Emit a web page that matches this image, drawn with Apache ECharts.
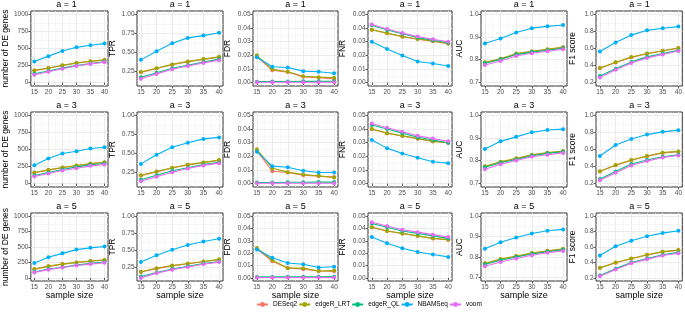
<!DOCTYPE html>
<html>
<head>
<meta charset="utf-8">
<script src="https://cdn.jsdelivr.net/npm/echarts@6/dist/echarts.min.js"></script>
<style>
  html, body { margin: 0; padding: 0; background: #fff; }
  #main { width: 685px; height: 313px; }
</style>
</head>
<body>
<div id="main"></div>
<script>
const methods = ['DESeq2', 'edgeR_LRT', 'edgeR_QL', 'NBAMSeq', 'voom'];
const sampleSize = [15, 20, 25, 30, 35, 40];
const aLabels = ['a = 1', 'a = 3', 'a = 5'];
const metricNames = ['number of DE genes', 'TPR', 'FDR', 'FNR', 'AUC', 'F1 score'];

// tick labels per metric column
const deTicks = [0, 250, 500, 750, 1000];
const tprTicks = [0.25, 0.5, 0.75, 1.0];
const fdrTicks = [0, 0.01, 0.02, 0.03, 0.04, 0.05];
const fnrTicks = [0, 0.01, 0.02, 0.03, 0.04, 0.05];
const aucTicks = [0.7, 0.8, 0.9, 1.0];
const f1Ticks = [0.2, 0.4, 0.6, 0.8, 1.0];

// values, rows in the order of `methods`
// a = 1
const deA1 = [
  [176, 211, 251, 286, 310, 330],
  [179, 214, 254, 289, 313, 333],
  [129, 170, 212, 250, 279, 304],
  [308, 388, 463, 517, 547, 572],
  [114, 159, 204, 244, 274, 299]
];
const tprA1 = [
  [0.235, 0.285, 0.335, 0.375, 0.405, 0.435],
  [0.24, 0.29, 0.34, 0.38, 0.41, 0.44],
  [0.17, 0.23, 0.29, 0.33, 0.37, 0.41],
  [0.40, 0.515, 0.62, 0.69, 0.72, 0.757],
  [0.15, 0.215, 0.275, 0.32, 0.36, 0.395]
];
const fdrA1 = [
  [0.019, 0.009, 0.0077, 0.0042, 0.0035, 0.0027],
  [0.020, 0.0097, 0.0079, 0.0047, 0.0040, 0.0035],
  [0.0007, 0.0008, 0.0008, 0.0009, 0.0009, 0.0010],
  [0.0186, 0.0116, 0.0111, 0.0084, 0.0079, 0.0069],
  [0.0002, 0.0002, 0.0002, 0.0002, 0.0002, 0.0002]
];
const fnrA1 = [
  [0.0387, 0.0362, 0.0337, 0.0319, 0.0304, 0.0286],
  [0.0388, 0.0363, 0.0338, 0.0320, 0.0305, 0.0287],
  [0.0420, 0.0386, 0.0358, 0.0330, 0.0310, 0.0292],
  [0.0300, 0.0246, 0.0198, 0.0155, 0.0140, 0.0122],
  [0.0426, 0.0393, 0.0363, 0.0338, 0.0317, 0.0300]
];
const aucA1 = [
  [0.786, 0.802, 0.825, 0.835, 0.844, 0.853],
  [0.788, 0.804, 0.827, 0.837, 0.846, 0.855],
  [0.784, 0.800, 0.822, 0.833, 0.841, 0.850],
  [0.871, 0.893, 0.920, 0.939, 0.947, 0.953],
  [0.776, 0.794, 0.816, 0.828, 0.837, 0.846]
];
const f1A1 = [
  [0.368, 0.436, 0.496, 0.539, 0.571, 0.603],
  [0.371, 0.439, 0.499, 0.542, 0.574, 0.606],
  [0.276, 0.363, 0.443, 0.502, 0.542, 0.578],
  [0.566, 0.670, 0.757, 0.813, 0.837, 0.857],
  [0.260, 0.351, 0.431, 0.490, 0.530, 0.570]
];
// a = 3
const deA3 = [
  [159, 198, 232, 262, 291, 311],
  [162, 201, 235, 265, 294, 314],
  [118, 162, 206, 245, 275, 294],
  [270, 368, 441, 475, 515, 534],
  [103, 147, 191, 225, 260, 279]
];
const tprA3 = [
  [0.205, 0.255, 0.305, 0.345, 0.375, 0.405],
  [0.21, 0.26, 0.31, 0.35, 0.38, 0.41],
  [0.15, 0.21, 0.27, 0.31, 0.35, 0.38],
  [0.36, 0.48, 0.58, 0.64, 0.69, 0.71],
  [0.13, 0.19, 0.25, 0.30, 0.34, 0.37]
];
const fdrA3 = [
  [0.0239, 0.0091, 0.0081, 0.0062, 0.0054, 0.0049],
  [0.0251, 0.0113, 0.0084, 0.0066, 0.0057, 0.0044],
  [0.0008, 0.0008, 0.0010, 0.0010, 0.0011, 0.0011],
  [0.0234, 0.0128, 0.0120, 0.0094, 0.0081, 0.0081],
  [0.0002, 0.0002, 0.0002, 0.0002, 0.0002, 0.0002]
];
const fnrA3 = [
  [0.0399, 0.0369, 0.0349, 0.0329, 0.0309, 0.0299],
  [0.040, 0.037, 0.035, 0.033, 0.031, 0.030],
  [0.043, 0.040, 0.037, 0.034, 0.032, 0.030],
  [0.032, 0.026, 0.022, 0.019, 0.016, 0.015],
  [0.044, 0.041, 0.038, 0.035, 0.033, 0.031]
];
const aucA3 = [
  [0.773, 0.793, 0.808, 0.824, 0.833, 0.840],
  [0.775, 0.795, 0.810, 0.826, 0.835, 0.842],
  [0.770, 0.790, 0.805, 0.821, 0.832, 0.839],
  [0.851, 0.885, 0.905, 0.925, 0.935, 0.939],
  [0.762, 0.784, 0.800, 0.817, 0.826, 0.834]
];
const f1A3 = [
  [0.343, 0.414, 0.473, 0.520, 0.560, 0.575],
  [0.346, 0.417, 0.476, 0.523, 0.563, 0.578],
  [0.255, 0.342, 0.429, 0.476, 0.515, 0.539],
  [0.523, 0.653, 0.724, 0.775, 0.807, 0.827],
  [0.240, 0.326, 0.413, 0.464, 0.507, 0.531]
];
// a = 5
const deA5 = [
  [142, 187, 220, 248, 271, 287],
  [145, 190, 223, 251, 274, 290],
  [95, 145, 173, 207, 235, 257],
  [240, 335, 397, 458, 486, 508],
  [89, 134, 168, 201, 223, 246]
];
const tprA5 = [
  [0.185, 0.235, 0.275, 0.305, 0.335, 0.365],
  [0.19, 0.24, 0.28, 0.31, 0.34, 0.37],
  [0.12, 0.18, 0.23, 0.27, 0.31, 0.34],
  [0.33, 0.43, 0.51, 0.58, 0.63, 0.67],
  [0.10, 0.17, 0.22, 0.26, 0.30, 0.33]
];
const fdrA5 = [
  [0.0236, 0.0135, 0.0081, 0.0070, 0.0056, 0.0053],
  [0.0242, 0.0143, 0.0079, 0.0079, 0.0056, 0.0059],
  [0.0008, 0.0008, 0.0009, 0.0009, 0.0009, 0.0010],
  [0.0230, 0.0163, 0.0121, 0.0110, 0.0084, 0.0090],
  [0.0003, 0.0003, 0.0003, 0.0003, 0.0003, 0.0003]
];
const fnrA5 = [
  [0.0409, 0.0379, 0.0359, 0.0339, 0.0319, 0.0309],
  [0.041, 0.038, 0.036, 0.034, 0.032, 0.031],
  [0.044, 0.041, 0.038, 0.036, 0.034, 0.032],
  [0.033, 0.028, 0.024, 0.021, 0.019, 0.017],
  [0.045, 0.042, 0.039, 0.037, 0.035, 0.033]
];
const aucA5 = [
  [0.768, 0.788, 0.803, 0.818, 0.829, 0.838],
  [0.770, 0.790, 0.805, 0.820, 0.831, 0.840],
  [0.764, 0.784, 0.800, 0.815, 0.826, 0.835],
  [0.840, 0.872, 0.895, 0.915, 0.928, 0.935],
  [0.755, 0.776, 0.793, 0.809, 0.821, 0.830]
];
const f1A5 = [
  [0.327, 0.397, 0.447, 0.497, 0.537, 0.557],
  [0.33, 0.40, 0.45, 0.50, 0.54, 0.56],
  [0.23, 0.32, 0.40, 0.45, 0.50, 0.53],
  [0.49, 0.61, 0.68, 0.74, 0.78, 0.81],
  [0.22, 0.31, 0.39, 0.44, 0.49, 0.52]
];

const panelData = [
  [deA1, tprA1, fdrA1, fnrA1, aucA1, f1A1],
  [deA3, tprA3, fdrA3, fnrA3, aucA3, f1A3],
  [deA5, tprA5, fdrA5, fnrA5, aucA5, f1A5]
];
const metricTicks = [deTicks, tprTicks, fdrTicks, fnrTicks, aucTicks, f1Ticks];

// styling / layout
const colors = ['#F8766D', '#A3A500', '#00BF7D', '#00B0F6', '#E76BF3'];
const FONT = 'Liberation Sans';
const colLeft = [25, 137, 253, 368, 481, 596];
const colWidth = [83, 86, 85, 84, 86, 87];
const rowTop = [11, 112, 213];
const rowHeight = [75, 75, 68];
const yRange = [[-50, 1050], [0.055, 1.045], [-0.0025, 0.0525], [-0.0025, 0.0525], [0.683, 1.015], [0.16, 1.04]];
const yDigits = [0, 2, 2, 2, 1, 1];
const nameGap = [18, 20, 21, 21, 17, 19];

function midpoints(t, lo, hi) {
  const step = t[1] - t[0];
  const out = [];
  for (let v = t[0] - step / 2; v <= hi; v += step) {
    if (v >= lo) out.push(+v.toFixed(6));
  }
  return out;
}

const grids = [], xAxes = [], yAxes = [], series = [], graphics = [];
let g = 0;
for (let r = 0; r < 3; r++) {
  for (let c = 0; c < 6; c++) {
    grids.push({
      left: colLeft[c], top: rowTop[r], width: colWidth[c], height: rowHeight[r],
      show: true, borderColor: '#333333', borderWidth: 1, backgroundColor: '#fff', z: 0
    });
    const xMin = 13.75, xMax = 41.25;
    // labelled x axis with major grid lines
    xAxes.push({
      type: 'value', gridIndex: g, min: xMin, max: xMax,
      name: r === 2 ? 'sample size' : '',
      nameLocation: 'middle', nameGap: 10,
      nameTextStyle: { fontFamily: FONT, fontSize: 9, color: '#000', verticalAlign: 'top' },
      axisLine: { show: false },
      axisTick: { show: true, length: 2.5, customValues: sampleSize, lineStyle: { color: '#333', width: 0.8 } },
      axisLabel: { customValues: sampleSize, margin: 2.5, fontFamily: FONT, fontSize: 6.5, color: '#4D4D4D' },
      splitLine: { show: true, lineStyle: { color: '#EBEBEB', width: 1 } }
    });
    // minor grid lines
    xAxes.push({
      type: 'value', gridIndex: g, min: xMin, max: xMax,
      axisLine: { show: false }, axisLabel: { show: false },
      axisTick: { show: false, customValues: [17.5, 22.5, 27.5, 32.5, 37.5] },
      splitLine: { show: true, lineStyle: { color: '#F2F2F2', width: 0.6 } }
    });
    const t = metricTicks[c];
    const yr = yRange[c];
    yAxes.push({
      type: 'value', gridIndex: g, min: yr[0], max: yr[1],
      name: metricNames[c], nameLocation: 'middle', nameGap: nameGap[c],
      nameTextStyle: { fontFamily: FONT, fontSize: 8.5, color: '#000' },
      axisLine: { show: false },
      axisTick: { show: true, length: 2.5, customValues: t, lineStyle: { color: '#333', width: 0.8 } },
      axisLabel: {
        customValues: t, margin: 2.5, fontFamily: FONT, fontSize: 6.5, color: '#4D4D4D',
        formatter: v => (+v).toFixed(yDigits[c])
      },
      splitLine: { show: true, lineStyle: { color: '#EBEBEB', width: 1 } }
    });
    yAxes.push({
      type: 'value', gridIndex: g, min: yr[0], max: yr[1], position: 'left',
      axisLine: { show: false }, axisLabel: { show: false },
      axisTick: { show: false, customValues: midpoints(t, yr[0], yr[1]) },
      splitLine: { show: true, lineStyle: { color: '#F2F2F2', width: 0.6 } }
    });
    const vals = panelData[r][c];
    methods.forEach((m, k) => {
      series.push({
        type: 'line', name: m,
        xAxisIndex: 2 * g, yAxisIndex: 2 * g,
        data: sampleSize.map((s, i) => [s, vals[k][i]]),
        symbol: 'circle', symbolSize: 4, showSymbol: true,
        lineStyle: { width: 1.1, color: colors[k] },
        itemStyle: { color: colors[k] },
        emphasis: { disabled: true },
        silent: true, animation: false, z: 3 + k
      });
    });
    graphics.push({
      type: 'text', x: colLeft[c] + colWidth[c] / 2, y: rowTop[r] - 6.5,
      style: { text: aLabels[r], textAlign: 'center', textVerticalAlign: 'middle', font: '9px "' + FONT + '"', fill: '#000' }
    });
    g++;
  }
}

const chart = echarts.init(document.getElementById('main'));
chart.setOption({
  backgroundColor: '#fff',
  animation: false,
  grid: grids,
  xAxis: xAxes,
  yAxis: yAxes,
  series: series,
  graphic: graphics,
  legend: {
    data: methods,
    left: 256, top: 301, padding: 0,
    itemWidth: 11, itemHeight: 6, itemGap: 1,
    textStyle: { fontFamily: FONT, fontSize: 6.5, color: '#000' }
  }
});
</script>
</body>
</html>
